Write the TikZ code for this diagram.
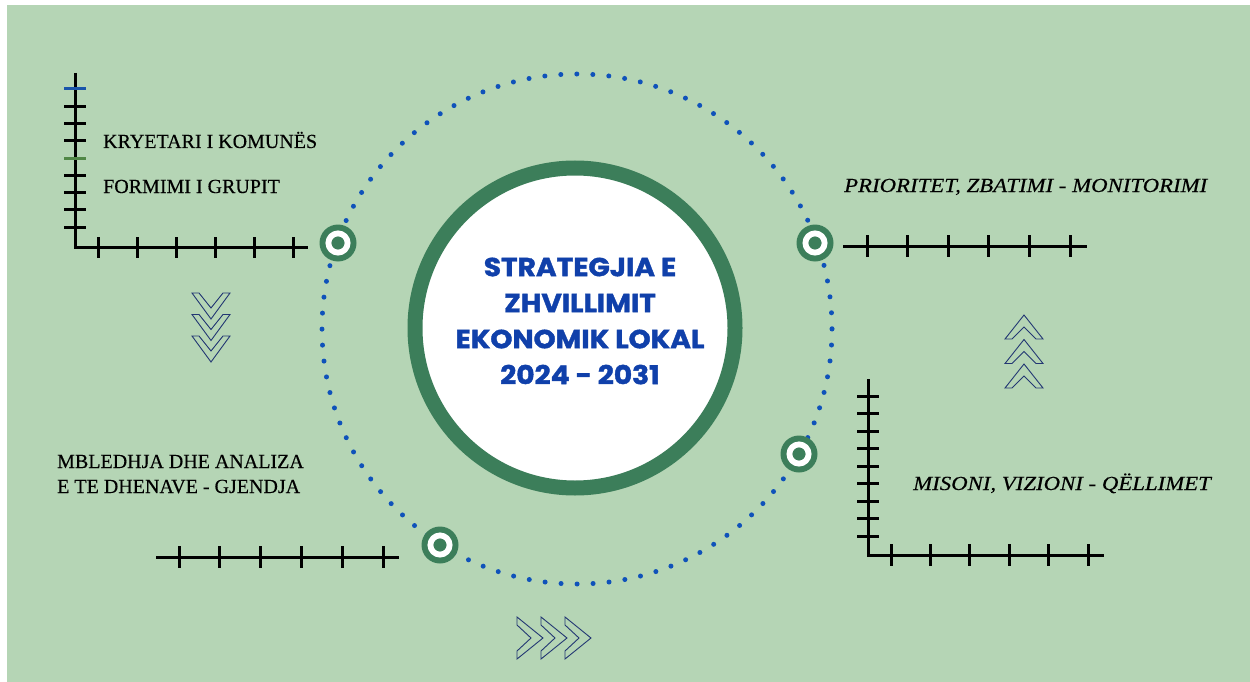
\documentclass[tikz,border=0pt]{standalone}
\usepackage{fontspec}
\setmainfont{Liberation Serif}[FakeBold=0.3]
\newfontfamily\italfont{Liberation Serif Italic}[FakeStretch=1.14,FakeBold=0.3]
\newfontfamily\titlefont{Poppins}[FakeStretch=1.08,FakeBold=1.5]
\usetikzlibrary{positioning,calc}
\definecolor{bggreen}{RGB}{181,213,181}
\definecolor{ringgreen}{RGB}{60,126,90}
\definecolor{dotblue}{RGB}{15,82,186}
\definecolor{titleblue}{RGB}{16,64,170}
\definecolor{chevblue}{RGB}{35,55,115}
\definecolor{tickblue}{RGB}{25,85,170}
\definecolor{tickgreen}{RGB}{80,135,70}
\tikzstyle{axisline}=[draw=black,line width=3pt]
\tikzstyle{tick}=[draw=black,line width=3pt]
\tikzstyle{marker}=[circle,fill=ringgreen,minimum size=37pt,inner sep=0pt,
  path picture={\draw[white,line width=5.8pt] (path picture bounding box.center) circle (9.6pt);}]
\tikzstyle{chev}=[draw=chevblue,line width=0.9pt,line join=miter]
\tikzstyle{steplabel}=[anchor=base west,inner sep=0pt,font=\fontsize{20}{25}\selectfont]
\tikzstyle{stepitalic}=[steplabel,font=\italfont\fontsize{20}{25}\selectfont]

\begin{document}
\begin{tikzpicture}[x=1pt,y=-1pt]
\useasboundingbox (0,0) rectangle (1250,682);
\fill[white] (0,0) rectangle (1250,682);
\fill[bggreen] (7,5) rectangle (1251,683);

\coordinate (c) at (577,329);
\draw[dotblue,line width=5pt,line cap=round,dash pattern=on 0pt off 16.022pt] (c) circle (255);
\node (core) [circle,draw=ringgreen,line width=15pt,fill=white,minimum size=320pt] at (575,328) {};
\node (title) [align=center,text=titleblue,font=\titlefont\bfseries\fontsize{26}{36}\selectfont] at (580,321)
  {STRATEGJIA E\\ZHVILLIMIT\\EKONOMIK LOKAL\\2024 - 2031};

\node (mtl) [marker] at (338,243) {};
\node (mtr) [marker] at (815,243) {};
\node (mbr) [marker] at (799,454) {};
\node (mbl) [marker] at (440,545) {};

% top left
\coordinate (tlo) at (75,247);
\draw[axisline] (75,73) -- (tlo) -- (308,247);
\foreach \k in {0,...,8}
  \draw[tick] (64,89+17.25*\k) -- (86,89+17.25*\k);
\draw[tick,draw=tickblue] (64,89) -- (86,89);
\draw[tick,draw=tickgreen] (64,158) -- (86,158);
\foreach \k in {0,...,5}
  \draw[tick] (98+39*\k,237) -- (98+39*\k,258);
\node (kryetari) [steplabel] at (103,148) {KRYETARI I KOMUNËS};
\node (formimi) [steplabel] at (103,193) {FORMIMI I GRUPIT};

% bottom left
\draw[axisline] (156,557) -- (399,557);
\foreach \k in {0,...,5}
  \draw[tick] (179+40.8*\k,546) -- (179+40.8*\k,568);
\node (mbledhja) [steplabel] at (57,468) {MBLEDHJA DHE ANALIZA};
\node (tedhenave) [steplabel] at (57,493) {E TE DHENAVE - GJENDJA};

% top right
\draw[axisline] (843,246) -- (1087,246);
\foreach \k in {0,...,5}
  \draw[tick] (867+40.6*\k,235) -- (867+40.6*\k,257);
\node (prioritet) [stepitalic] at (844,192) {PRIORITET, ZBATIMI - MONITORIMI};

% bottom right
\coordinate (bro) at (868,555);
\draw[axisline] (868,379) -- (bro) -- (1104,555);
\foreach \k in {0,...,8}
  \draw[tick] (857,396+17.5*\k) -- (879,396+17.5*\k);
\foreach \k in {0,...,5}
  \draw[tick] (891+39.4*\k,544) -- (891+39.4*\k,566);
\node (misoni) [stepitalic] at (913,490) {MISONI, VIZIONI - QËLLIMET};

% chevrons
\foreach \k in {0,1,2}
  \draw[chev,shift={(211,293+21.5*\k)}] (-19,0) -- (0,26) -- (19,0) -- (12,0) -- (0,15) -- (-12,0) -- cycle;
\foreach \k in {0,1,2}
  \draw[chev,shift={(1024,315+24.5*\k)}] (-19,24) -- (0,0) -- (19,24) -- (12,24) -- (0,12) -- (-12,24) -- cycle;
\foreach \k in {0,1,2}
  \draw[chev,shift={(517+24*\k,638)}] (0,-21) -- (26,0) -- (0,21) -- (0,13) -- (14,0) -- (0,-13) -- cycle;
\end{tikzpicture}
\end{document}
